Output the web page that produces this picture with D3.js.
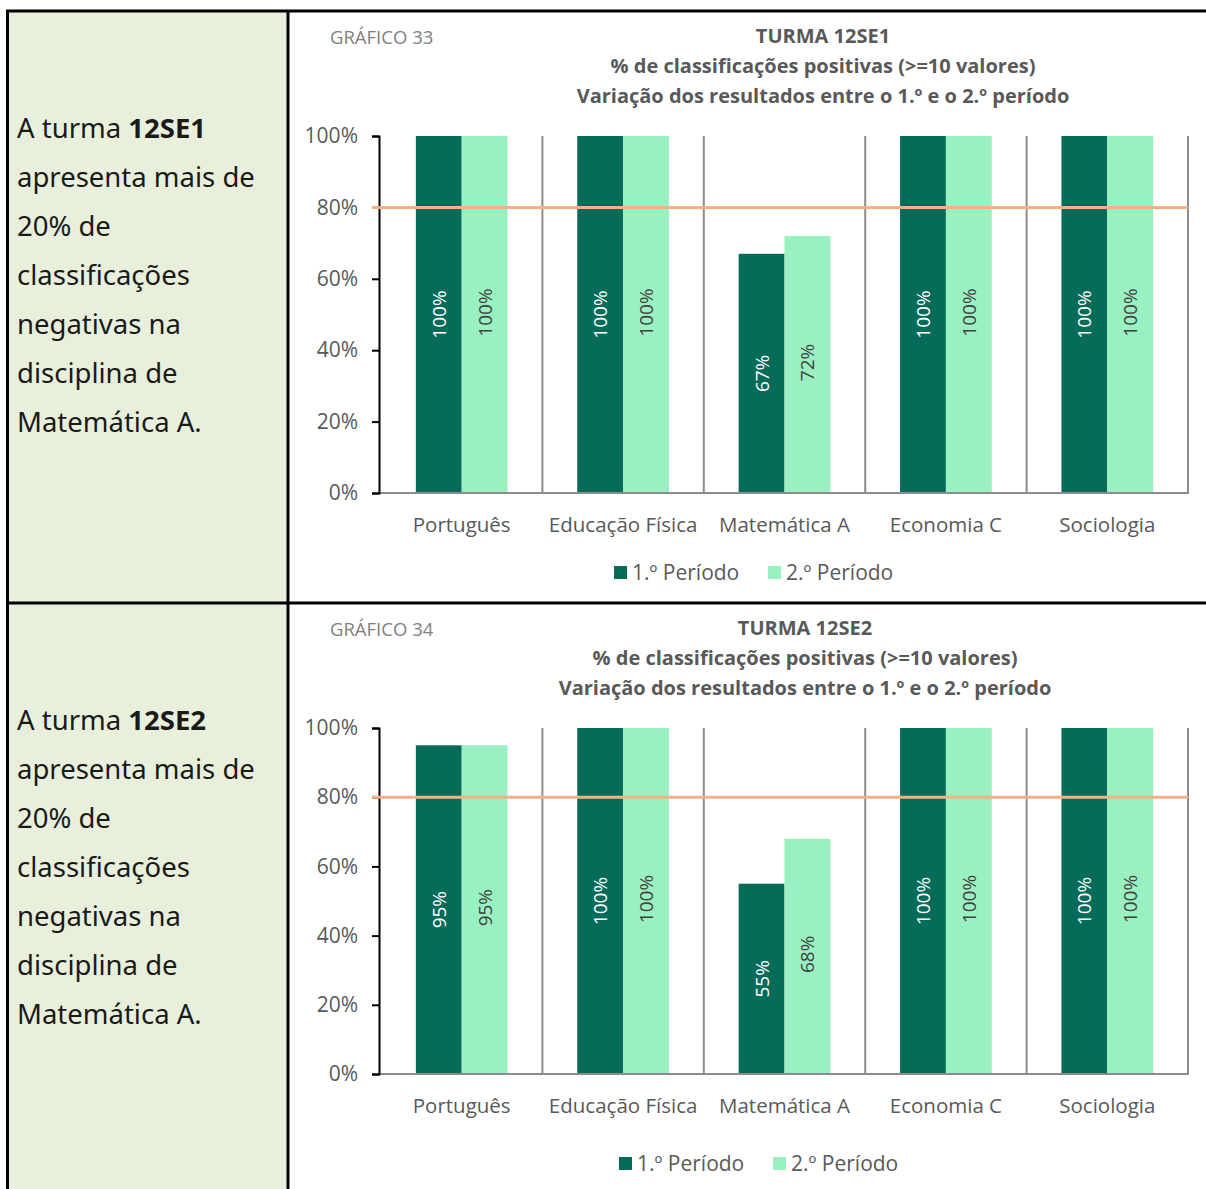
<!DOCTYPE html>
<html>
  <head>
    <meta charset="UTF-8">
    <title>Turmas 12SE1 e 12SE2</title>
    <script src="https://d3js.org/d3.v7.min.js"></script>
    <style>
      body { margin: 0; background: #fff; }
      svg text { font-family: "Open Sans", "Noto Sans", sans-serif; }
    </style>
  </head>
  <body>
    <svg width="1206" height="1189"></svg>
    <script>
      const categories = ["Português", "Educação Física", "Matemática A", "Economia C", "Sociologia"];
      const periods = ["1.º Período", "2.º Período"];
      const se1First = [100, 100, 67, 100, 100];
      const se1Second = [100, 100, 72, 100, 100];
      const se2First = [95, 100, 55, 100, 100];
      const se2Second = [95, 100, 68, 100, 100];
      const yTicks = [0, 20, 40, 60, 80, 100];
      const target = 80;

      const dark = "#076b5a";
      const light = "#99f0c0";

      const svg = d3.select("svg");

      // tabela de fundo
      svg.append("rect").attr("x", 8).attr("y", 11).attr("width", 280).attr("height", 1178).attr("fill", "#e8f0dc");
      const border = svg.append("g").attr("stroke", "#000").attr("stroke-width", 3);
      border.append("line").attr("x1", 6).attr("x2", 1206).attr("y1", 11).attr("y2", 11);
      border.append("line").attr("x1", 6).attr("x2", 1206).attr("y1", 603).attr("y2", 603);
      border.append("line").attr("x1", 7.5).attr("x2", 7.5).attr("y1", 10).attr("y2", 1189);
      border.append("line").attr("x1", 288).attr("x2", 288).attr("y1", 10).attr("y2", 1189);

      const charts = [
        { turma: "12SE1", num: 33, first: se1First, second: se1Second, top: 0, y0: 493, y1: 136, titleX: 823, legendX: 756, legendY: 573 },
        { turma: "12SE2", num: 34, first: se2First, second: se2Second, top: 592, y0: 1074, y1: 728, titleX: 805, legendX: 761, legendY: 1164 }
      ];

      charts.forEach(c => {
        // texto da coluna esquerda
        const lines = [
          "A turma ",
          "apresenta mais de",
          "20% de",
          "classificações",
          "negativas na",
          "disciplina de",
          "Matemática A."
        ];
        const note = svg.append("text")
          .attr("font-size", 27.5)
          .attr("fill", "#1a1a1a")
          .style("font-family", "'Noto Sans', sans-serif");
        lines.forEach((l, i) => {
          const t = note.append("tspan").attr("x", 17).attr("y", c.top + 138 + i * 49).text(l);
          if (i === 0) note.append("tspan").attr("font-weight", "bold").text(c.turma);
        });

        // títulos
        svg.append("text")
          .attr("x", 330).attr("y", c.top + 44)
          .attr("font-size", 18.5).attr("fill", "#808080")
          .text("GRÁFICO " + c.num);
        const titles = ["TURMA " + c.turma, "% de classificações positivas (>=10 valores)", "Variação dos resultados entre o 1.º e o 2.º período"];
        svg.append("g").selectAll("text")
          .data(titles)
          .join("text")
          .attr("x", c.titleX)
          .attr("y", (d, i) => c.top + 43 + i * 30)
          .attr("text-anchor", "middle")
          .attr("font-size", 20)
          .attr("font-weight", "bold")
          .attr("fill", "#595959")
          .text(d => d);

        const x = d3.scaleBand().domain(categories).range([381, 1188]);
        const xs = d3.scaleBand().domain([0, 1]).range([0, x.bandwidth()]).paddingOuter(0.76);
        const y = d3.scaleLinear().domain([0, 100]).range([c.y0, c.y1]);

        // separadores verticais das categorias
        const seps = categories.slice(1).map(d => x(d)).concat([1188]);
        svg.append("g").selectAll("line")
          .data(seps)
          .join("line")
          .attr("x1", d => d).attr("x2", d => d)
          .attr("y1", y(100)).attr("y2", y(0))
          .attr("stroke", "#8c8c8c").attr("stroke-width", 2);

        // barras
        const rows = categories.map((cat, i) => ({ cat, vals: [c.first[i], c.second[i]] }));
        const grp = svg.append("g").selectAll("g")
          .data(rows)
          .join("g")
          .attr("transform", d => `translate(${x(d.cat)},0)`);
        grp.selectAll("rect")
          .data(d => d.vals.map((v, k) => ({ v, k })))
          .join("rect")
          .attr("x", d => xs(d.k))
          .attr("width", xs.bandwidth())
          .attr("y", d => y(d.v))
          .attr("height", d => y(0) - y(d.v))
          .attr("fill", d => d.k === 0 ? dark : light);
        grp.selectAll("text")
          .data(d => d.vals.map((v, k) => ({ v, k })))
          .join("text")
          .attr("transform", d => `translate(${xs(d.k) + xs.bandwidth() / 2 + 7},${(y(d.v) + y(0)) / 2 - (d.k === 1 ? 2 : 0)}) rotate(-90)`)
          .attr("text-anchor", "middle")
          .attr("font-size", 19)
          .attr("fill", d => d.k === 0 ? "#fff" : "#404040")
          .text(d => d.v + "%");

        // eixo x
        svg.append("line")
          .attr("x1", 379).attr("x2", 1189)
          .attr("y1", y(0)).attr("y2", y(0))
          .attr("stroke", "#8c8c8c").attr("stroke-width", 2);
        svg.append("g").selectAll("text")
          .data(categories)
          .join("text")
          .attr("x", d => x(d) + x.bandwidth() / 2)
          .attr("y", y(0) + 39)
          .attr("text-anchor", "middle")
          .attr("font-size", 20.5)
          .attr("fill", "#595959")
          .text(d => d);

        // eixo y
        const yAxis = svg.append("g")
          .attr("transform", "translate(379,0)")
          .call(d3.axisLeft(y).tickValues(yTicks).tickFormat(d => d + "%").tickSize(7).tickPadding(14));
        yAxis.select(".domain").attr("stroke", "#000").attr("stroke-width", 2);
        yAxis.selectAll(".tick line").attr("stroke", "#000").attr("stroke-width", 2);
        yAxis.selectAll(".tick text")
          .attr("font-size", 21).attr("fill", "#595959")
          .style("font-family", "'Open Sans', sans-serif");

        // meta 80%
        svg.append("line")
          .attr("x1", 372).attr("x2", 1188)
          .attr("y1", y(target)).attr("y2", y(target))
          .attr("stroke", "#f4b183").attr("stroke-width", 3);

        // legenda
        const lg = svg.append("g").attr("transform", `translate(${c.legendX - 142},${c.legendY})`);
        const items = lg.selectAll("g")
          .data(periods)
          .join("g")
          .attr("transform", (d, i) => `translate(${i * 154},0)`);
        items.append("rect")
          .attr("y", -7).attr("width", 13).attr("height", 13)
          .attr("fill", (d, i) => i === 0 ? dark : light);
        items.append("text")
          .attr("x", 18).attr("y", 7)
          .attr("font-size", 21).attr("fill", "#595959")
          .text(d => d);
      });
    </script>
  </body>
</html>
